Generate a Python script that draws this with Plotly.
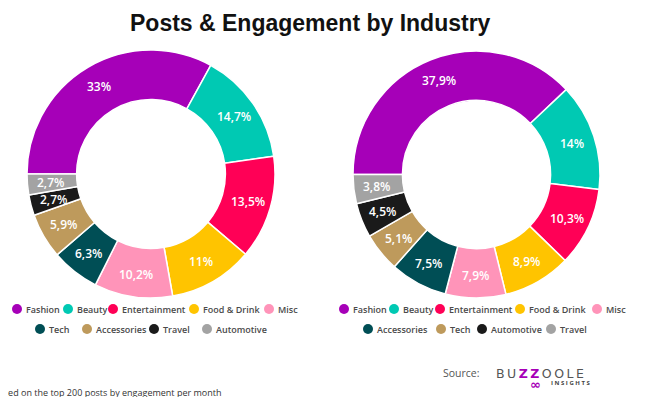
import math
import plotly.graph_objects as go

# ---- data ----
left_labels = ["Fashion", "Beauty", "Entertainment", "Food & Drink", "Misc",
               "Tech", "Accessories", "Travel", "Automotive"]
left_values = [33, 14.7, 13.5, 11, 10.2, 6.3, 5.9, 2.7, 2.7]

right_labels = ["Fashion", "Beauty", "Entertainment", "Food & Drink", "Misc",
                "Accessories", "Tech", "Automotive", "Travel"]
right_values = [37.9, 14, 10.3, 8.9, 7.9, 7.5, 5.1, 4.5, 3.8]

slice_colors = ["#A600B8", "#00C9B3", "#FF0056", "#FFC400", "#FF94B9",
                "#004E55", "#BE9A5C", "#1A1A1A", "#A3A3A3"]

title_text = "Posts & Engagement by Industry"
footnote = "Based on the top 200 posts by engagement per month"

W, H = 664, 397
OFF = 8  # page body margin in the browser


def px(x):
    return (x - OFF) / W


def py(y):
    return 1 - (y - OFF) / H


def fmt(v):
    return ("%g" % v).replace(".", ",") + "%"


fig = go.Figure()
annotations = []
shapes = []

HOLE = 0.6
START = 270  # first slice starts at 9 o'clock, clockwise

for labels, values, dom in [
    (left_labels, left_values, ([27, 275], [50, 298])),
    (right_labels, right_values, ([353, 600], [51, 298])),
]:
    fig.add_trace(go.Pie(
        labels=labels, values=values,
        textinfo="none",
        marker=dict(colors=slice_colors, line=dict(color="white", width=1.5)),
        hole=HOLE, sort=False, direction="clockwise", rotation=START,
        domain=dict(x=[px(dom[0][0]), px(dom[0][1])],
                    y=[py(dom[1][1]), py(dom[1][0])]),
        showlegend=False, hoverinfo="label+percent",
    ))
    # percentage labels at the middle of each ring segment
    cx = (dom[0][0] + dom[0][1]) / 2
    cy = (dom[1][0] + dom[1][1]) / 2
    R = (dom[0][1] - dom[0][0]) / 2
    rmid = R * (HOLE + 1) / 2 * 1.02
    total = sum(values)
    cum = 0
    for v in values:
        ang = math.radians(START + (cum + v / 2) / total * 360)
        cum += v
        annotations.append(dict(
            x=px(cx + rmid * math.sin(ang)), y=py(cy - rmid * math.cos(ang)),
            xref="paper", yref="paper", xanchor="center", yanchor="middle",
            showarrow=False, text=fmt(v),
            font=dict(family="Open Sans", size=12, color="white", weight=600),
        ))

# legend item positions (circle centre x, row y) in page pixels
left_leg_x = [17, 68, 113, 194, 269, 40, 87, 154, 207]
right_leg_x = [344, 394, 440, 520, 597, 368, 441, 482, 551]
row_y = [309, 309, 309, 309, 309, 329, 329, 329, 329]
RD = 5


def legend(labels, xs):
    for lab, col, cx, cy in zip(labels, slice_colors, xs, row_y):
        shapes.append(dict(
            type="circle", xref="paper", yref="paper",
            x0=px(cx - RD), x1=px(cx + RD), y0=py(cy + RD), y1=py(cy - RD),
            fillcolor=col, line=dict(width=0),
        ))
        annotations.append(dict(
            x=px(cx + 6.5), y=py(cy), xref="paper", yref="paper",
            xanchor="left", yanchor="middle", showarrow=False, text=lab,
            font=dict(family="Open Sans", size=9, color="#4a4a4a", weight=600),
        ))


legend(left_labels, left_leg_x)
legend(right_labels, right_leg_x)

annotations += [
    dict(x=px(310), y=py(23), xref="paper", yref="paper", xanchor="center",
         yanchor="middle", showarrow=False, text="<b>" + title_text + "</b>",
         font=dict(family="Liberation Sans", size=23, color="#111111")),
    dict(x=px(441), y=py(373), xref="paper", yref="paper", xanchor="left",
         yanchor="middle", showarrow=False, text="Source:",
         font=dict(family="Open Sans", size=10.5, color="#555555")),
    dict(x=px(494), y=py(373), xref="paper", yref="paper", xanchor="left",
         yanchor="middle", showarrow=False,
         text='B\u2009U\u2009<span style="color:#A600B8"><b>Z\u2009Z</b></span>\u2009O\u2009O\u2009L\u2009E',
         font=dict(family="DejaVu Sans", size=12.5, color="#555555")),
    dict(x=px(535), y=py(384), xref="paper", yref="paper", xanchor="center",
         yanchor="middle", showarrow=False, text="<b>∞</b>",
         font=dict(family="DejaVu Sans", size=13, color="#A600B8")),
    dict(x=px(549), y=py(383), xref="paper", yref="paper", xanchor="left",
         yanchor="middle", showarrow=False, text="<b>I N S I G H T S</b>",
         font=dict(family="Open Sans", size=6, color="#444444")),
    dict(x=px(-9), y=py(392), xref="paper", yref="paper", xanchor="left",
         yanchor="middle", showarrow=False, text=footnote,
         font=dict(family="Open Sans", size=9, color="#333333")),
]

fig.update_layout(
    width=W, height=H,
    margin=dict(l=0, r=0, t=0, b=0),
    paper_bgcolor="white", plot_bgcolor="white",
    annotations=annotations, shapes=shapes,
    showlegend=False,
)

fig.write_html("out.html")
